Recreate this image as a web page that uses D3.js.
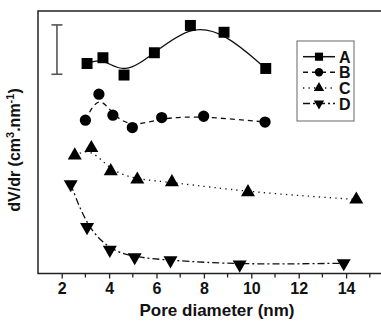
<!DOCTYPE html>
<html>
<head>
<meta charset="utf-8">
<script src="https://cdn.jsdelivr.net/npm/d3@7"></script>
<style>
  body { margin: 0; background: #fff; overflow: hidden; }
  text { font-family: "Liberation Sans", Arial, sans-serif; font-weight: bold; fill: #111; }
</style>
</head>
<body>
<div id="chart"></div>
<script>
// pore diameter (nm) and dV/dr (arbitrary, offset curves)
const seriesNames = ["A", "B", "C", "D"];
const xA = [3.07, 3.74, 4.63, 5.91, 7.43, 8.85, 10.61];
const yA = [80.0, 82.2, 75.6, 84.1, 94.5, 91.9, 78.1];
const xB = [3.0, 3.57, 4.16, 4.98, 6.22, 7.99, 10.58];
const yB = [58.4, 68.3, 60.3, 55.6, 59.4, 59.9, 57.7];
const xC = [2.55, 3.25, 4.07, 5.19, 6.65, 9.86, 14.43];
const yC = [45.0, 47.8, 39.0, 35.8, 34.8, 31.0, 28.2];
const xD = [2.38, 3.07, 4.03, 5.08, 6.59, 9.51, 13.9];
const yD = [34.0, 17.7, 9.0, 6.2, 5.0, 3.4, 3.9];
const xTicks = [2, 4, 6, 8, 10, 12, 14];
const xMinorTicks = [3, 5, 7, 9, 11, 13, 15];
// scale bar in the upper left corner (y units)
const scaleBar = {x: 1.8, y0: 75.9, y1: 94.7};

const W = 381, H = 322;
const margin = {top: 11, right: -40, bottom: 48.5, left: 38};
const width = W - margin.left - margin.right;
const height = H - margin.top - margin.bottom;

const svg = d3.select("#chart").append("svg")
  .attr("width", W).attr("height", H);
const g = svg.append("g")
  .attr("transform", `translate(${margin.left},${margin.top})`);

const x = d3.scaleLinear().domain([1, 15]).range([0, 23.7 * 14]);
const y = d3.scaleLinear().domain([0, 100]).range([height, 0]);

// frame (right side runs off the picture)
g.append("rect")
  .attr("x", 0).attr("y", 0).attr("width", width).attr("height", height)
  .attr("fill", "none").attr("stroke", "#222").attr("stroke-width", 1.5);

// bottom axis
const xAxis = g.append("g").attr("transform", `translate(0,${height})`)
  .call(d3.axisBottom(x).tickValues(xTicks).tickSize(5).tickPadding(4).tickFormat(d3.format("d")));
xAxis.select(".domain").remove();
xAxis.selectAll("line").attr("stroke", "#222").attr("stroke-width", 1.3);
xAxis.selectAll("text").style("font-size", "16px").attr("fill", "#111");
g.append("g").attr("transform", `translate(0,${height})`)
  .selectAll("line").data(xMinorTicks).join("line")
  .attr("x1", d => x(d)).attr("x2", d => x(d))
  .attr("y1", 0).attr("y2", 4)
  .attr("stroke", "#222").attr("stroke-width", 1.3);

// axis titles
svg.append("text")
  .attr("x", 217).attr("y", 316)
  .attr("text-anchor", "middle")
  .style("font-size", "17px")
  .text("Pore diameter (nm)");

const yt = svg.append("text")
  .attr("transform", "translate(20,150) rotate(-90)")
  .attr("text-anchor", "middle")
  .style("font-size", "16px");
yt.append("tspan").text("dV/dr (cm");
yt.append("tspan").attr("dy", -6).style("font-size", "11px").text("3");
yt.append("tspan").attr("dy", 6).text(".nm");
yt.append("tspan").attr("dy", -6).style("font-size", "11px").text("-1");
yt.append("tspan").attr("dy", 6).text(")");

// scale bar
const sb = g.append("g").attr("stroke", "#555").attr("stroke-width", 1.6);
sb.append("line").attr("x1", x(scaleBar.x)).attr("x2", x(scaleBar.x))
  .attr("y1", y(scaleBar.y0)).attr("y2", y(scaleBar.y1));
[scaleBar.y0, scaleBar.y1].forEach(v => {
  sb.append("line").attr("x1", x(scaleBar.x) - 5.5).attr("x2", x(scaleBar.x) + 5.5)
    .attr("y1", y(v)).attr("y2", y(v));
});

const series = [
  {name: "A", xs: xA, ys: yA, dash: null, sym: d3.symbolSquare, size: 120, rot: 0},
  {name: "B", xs: xB, ys: yB, dash: "5,4", sym: d3.symbolCircle, size: 100, rot: 0},
  {name: "C", xs: xC, ys: yC, dash: "1.3,4.2", sym: d3.symbolTriangle, size: 85, rot: 0},
  {name: "D", xs: xD, ys: yD, dash: "7,3,2,3", sym: d3.symbolTriangle, size: 85, rot: 180}
];

const line = d3.line().x(d => x(d[0])).y(d => y(d[1])).curve(d3.curveBasis);

series.forEach(s => {
  const pts = s.xs.map((v, i) => [v, s.ys[i]]);
  g.append("path").datum(pts)
    .attr("d", line)
    .attr("fill", "none").attr("stroke", "#111").attr("stroke-width", 1.3)
    .attr("stroke-dasharray", s.dash);
  g.selectAll(null).data(pts).join("path")
    .attr("d", d3.symbol().type(s.sym).size(s.size))
    .attr("transform", d => `translate(${x(d[0])},${y(d[1])}) rotate(${s.rot})`)
    .attr("fill", "#000");
});

// legend
const lg = svg.append("g").attr("transform", "translate(297,41)");
lg.append("rect").attr("width", 57).attr("height", 80)
  .attr("fill", "#fff").attr("stroke", "#666").attr("stroke-width", 1);
series.forEach((s, i) => {
  const yy = 15.7 + i * 15.6;
  lg.append("line").attr("x1", 6).attr("x2", 38).attr("y1", yy).attr("y2", yy)
    .attr("stroke", "#111").attr("stroke-width", 1.5)
    .attr("stroke-dasharray", s.dash);
  lg.append("path")
    .attr("d", d3.symbol().type(s.sym).size(s.size * 0.55))
    .attr("transform", `translate(22,${yy}) rotate(${s.rot})`)
    .attr("fill", "#000");
  lg.append("text").attr("x", 42).attr("y", yy + 6)
    .style("font-size", "16px").text(s.name);
});
</script>
</body>
</html>
